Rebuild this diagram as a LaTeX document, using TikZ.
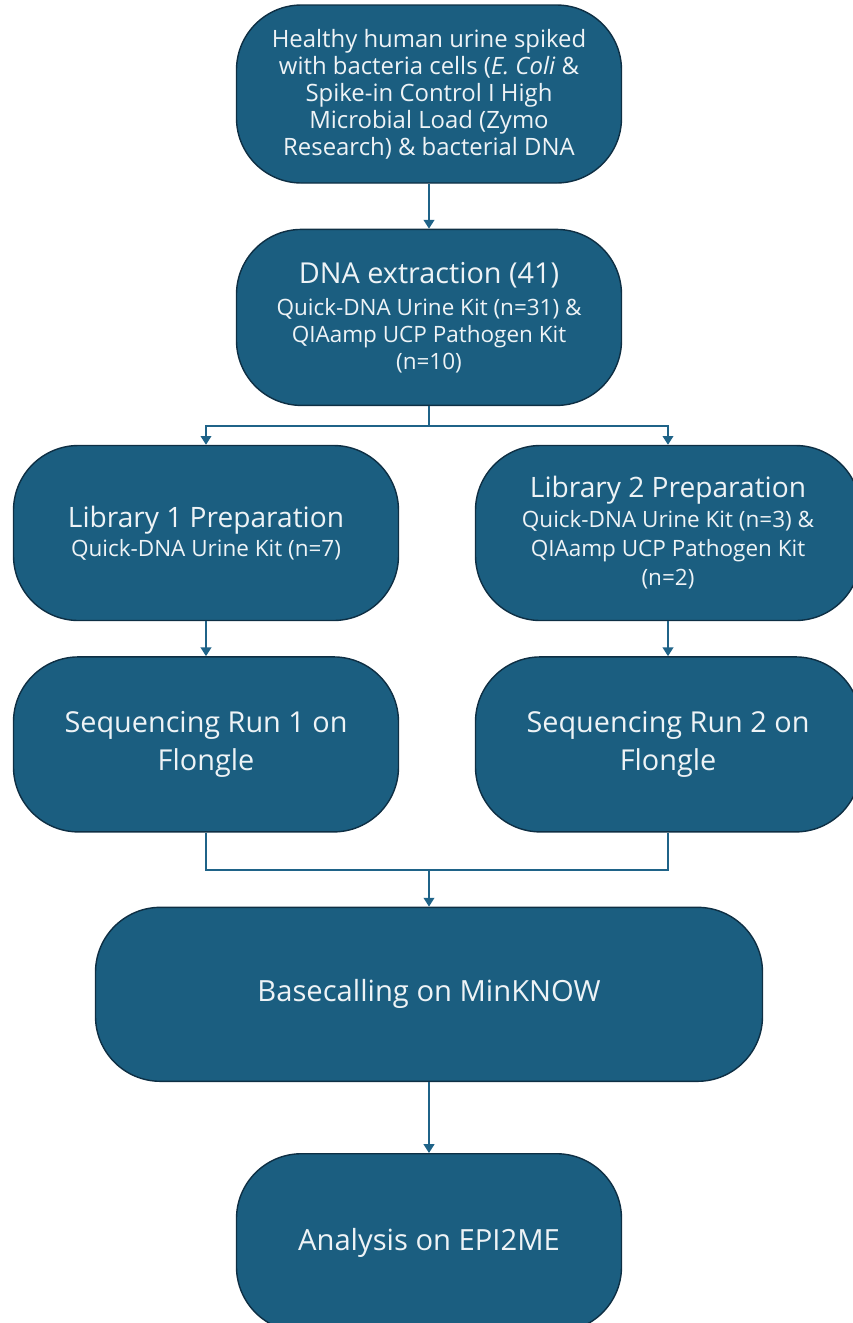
\documentclass[tikz,border=0pt]{standalone}
\usepackage{fontspec}
\setmainfont{Open Sans}
\usepackage{tikz}
\usetikzlibrary{arrows.meta, positioning, calc}
\definecolor{boxfill}{HTML}{1B5E80}
\definecolor{boxline}{HTML}{0E2F44}
\definecolor{boxtext}{HTML}{EEF3F6}
\definecolor{linkcol}{HTML}{1F6388}
\tikzset{
  flowbox/.style={rectangle,rounded corners=1.3cm,draw=boxline,line width=0.8pt,fill=boxfill,text=boxtext,align=center,inner sep=0pt,minimum width=7.7cm,minimum height=3.52cm},
  big/.style={font=\fontsize{16.4}{21.5}\selectfont},
  small/.style={font=\fontsize{12.8}{15.3}\selectfont},
  link/.style={draw=linkcol,line width=1.1pt},
  arr/.style={link,-{Triangle[length=5pt,width=6pt]}}
}
\begin{document}
\begin{tikzpicture}
  \useasboundingbox (0,0) rectangle (17.06,-26.46);

  \node[flowbox, font=\fontsize{13.6}{15.4}\selectfont, minimum height=3.56cm] (urine) at (8.58,-1.88)
    {Healthy human urine spiked\\with bacteria cells (\textit{E. Coli} \&\\Spike-in Control I High\\Microbial Load (Zymo\\Research) \& bacterial DNA};
  \node[flowbox, small, below=0.9cm of urine] (dna)
    {{\fontsize{16.4}{18}\selectfont DNA extraction (41)}\\[3pt]Quick-DNA Urine Kit (n=31) \&\\QIAamp UCP Pathogen Kit\\(n=10)};

  \node[flowbox, small, minimum height=3.5cm] (lib1) at (4.12,-10.66)
    {{\fontsize{16}{18}\selectfont Library 1 Preparation}\\[1pt]Quick-DNA Urine Kit (n=7)};
  \node[flowbox, font=\fontsize{12.8}{16.7}\selectfont, minimum height=3.5cm] (lib2) at (13.36,-10.66)
    {{\fontsize{16}{18}\selectfont Library 2 Preparation}\\Quick-DNA Urine Kit (n=3) \&\\QIAamp UCP Pathogen Kit\\(n=2)};

  \node[flowbox, big, minimum height=3.5cm, below=0.7cm of lib1] (seq1)
    {Sequencing Run 1 on\\Flongle};
  \node[flowbox, big, minimum height=3.5cm, below=0.7cm of lib2] (seq2)
    {Sequencing Run 2 on\\Flongle};

  \node[flowbox, big, font=\fontsize{16.6}{18}\selectfont, minimum width=13.34cm, minimum height=3.48cm, anchor=north] (base)
    at ($(dna.south |- seq1.south)+(0,-1.48)$) {Basecalling on MinKNOW};
  \node[flowbox, big, font=\fontsize{16.6}{18}\selectfont, minimum height=3.56cm, below=1.42cm of base] (epi)
    {Analysis on EPI2ME};

  % connectors
  \draw[arr] (urine) -- (dna);
  \coordinate (split) at ($(dna.south)+(0,-0.4)$);
  \draw[link] (dna.south) -- (split);
  \draw[arr] (split) -| (lib1.north);
  \draw[arr] (split) -| (lib2.north);
  \draw[arr] (lib1) -- (seq1);
  \draw[arr] (lib2) -- (seq2);
  \coordinate (join) at ($(base.north)+(0,0.74)$);
  \draw[link] (seq1.south) |- (join) -| (seq2.south);
  \draw[arr] (join) -- (base.north);
  \draw[arr] (base) -- (epi);
\end{tikzpicture}
\end{document}
